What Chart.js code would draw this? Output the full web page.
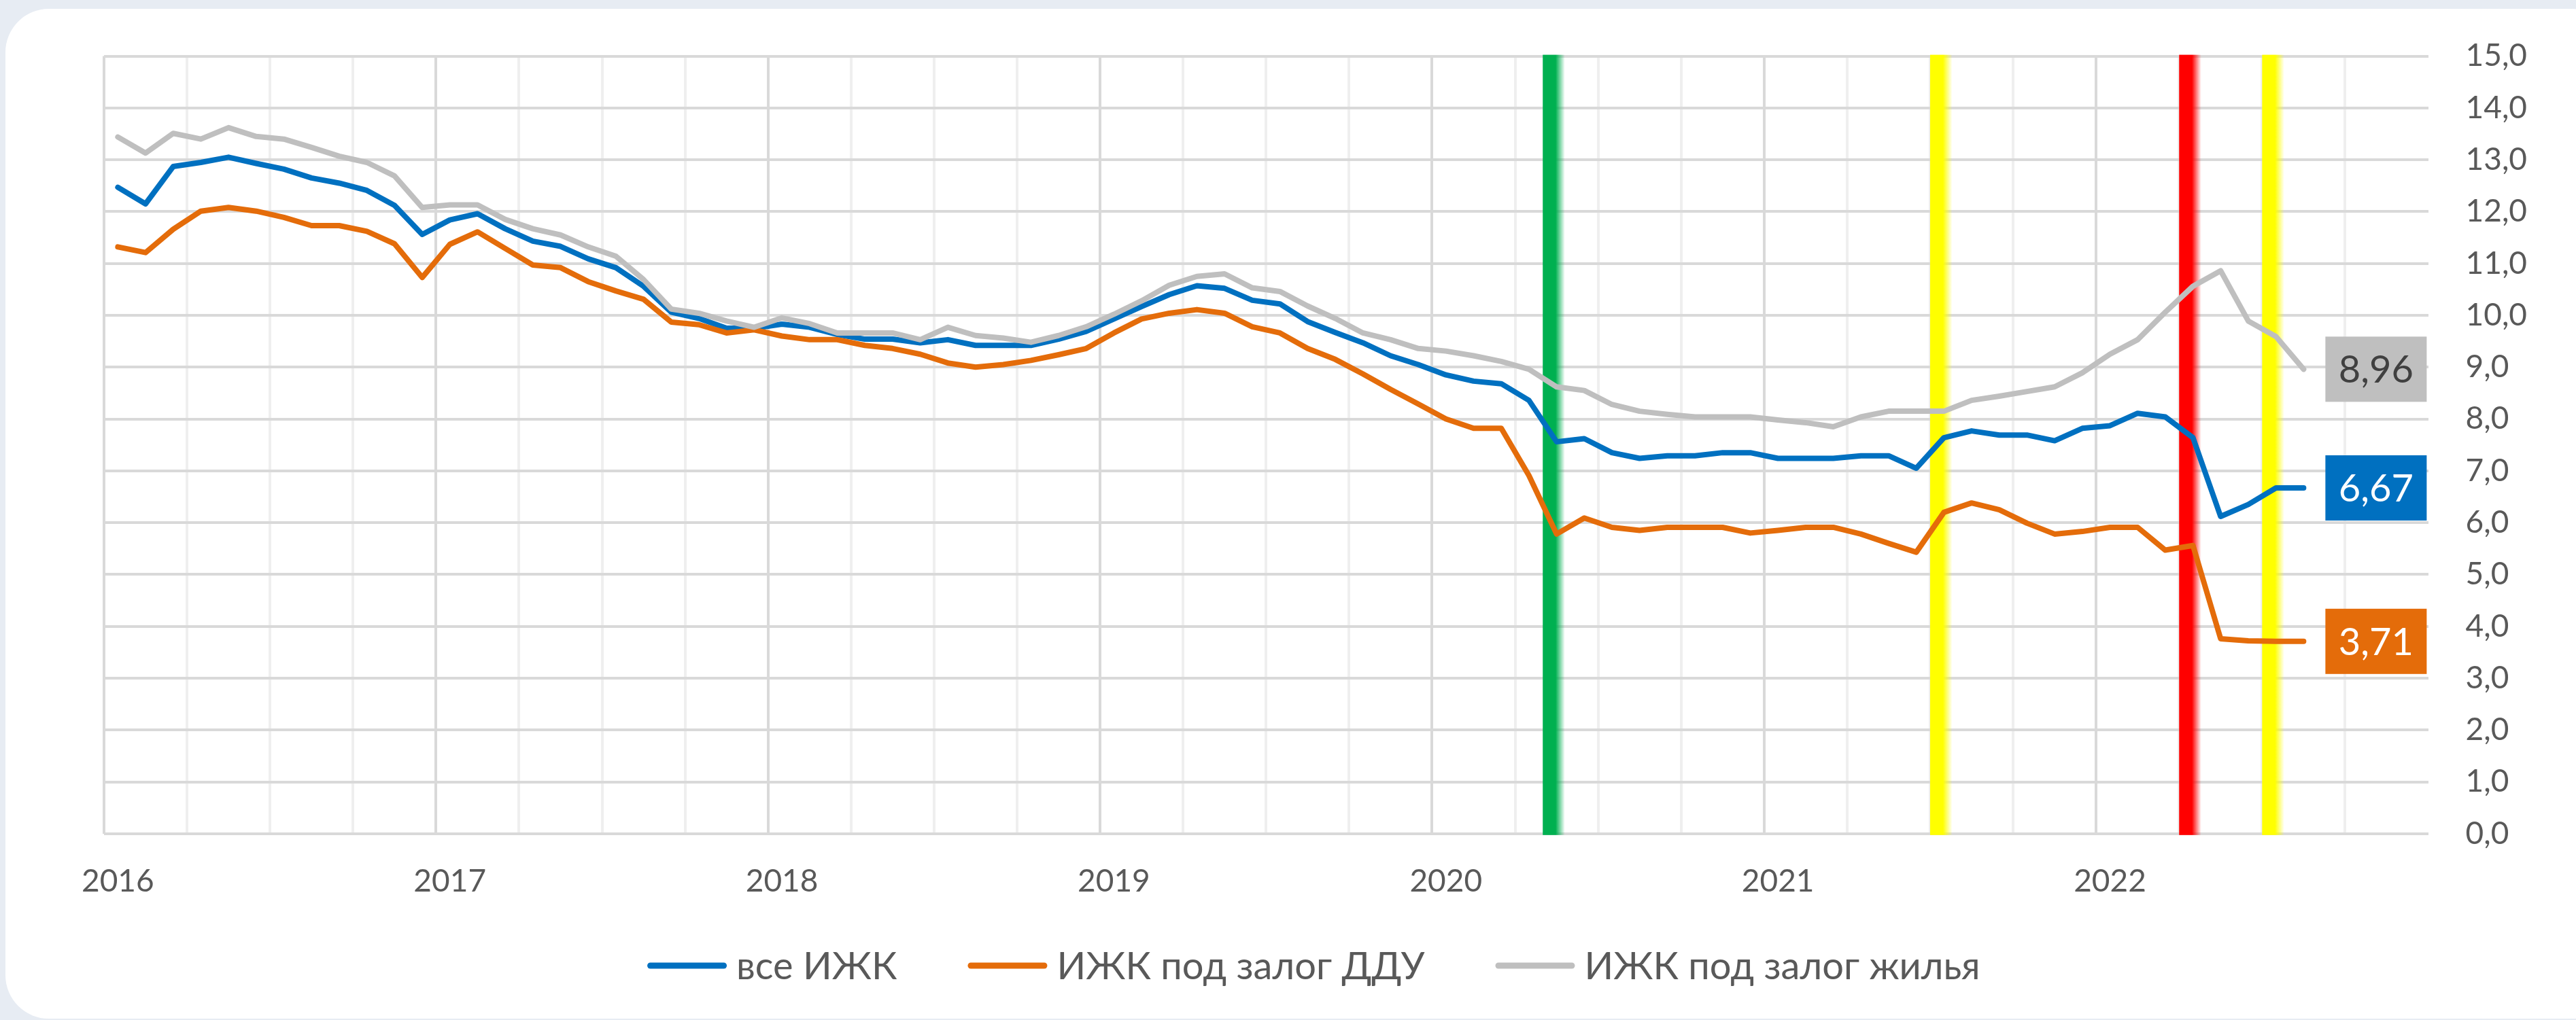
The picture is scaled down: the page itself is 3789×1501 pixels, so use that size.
<!DOCTYPE html>
<html lang="ru">
<head>
<meta charset="UTF-8">
<title>Ставки по ИЖК</title>
<script src="https://cdn.jsdelivr.net/npm/chart.js@4.4.1/dist/chart.umd.min.js"></script>
<style>
  html, body { margin: 0; padding: 0; background: #e7ecf3; overflow: hidden; }
  body { width: 3789px; height: 1501px; position: relative; }
  .card { position: absolute; left: 8px; top: 13px; width: 3840px; height: 1486px; background: #fff; border-radius: 64px; }
  .wrap { position: absolute; left: 0; top: 0; width: 3789px; height: 1501px; }
</style>
</head>
<body>
<div class="card"></div>
<div class="wrap"><canvas id="chart" width="3789" height="1501"></canvas></div>
<script>
// categories: one point per month, Jan 2016 .. Dec 2022
const years = [2016, 2017, 2018, 2019, 2020, 2021, 2022];
const months = ['01', '02', '03', '04', '05', '06', '07', '08', '09', '10', '11', '12'];

const seriesNames = ['все ИЖК', 'ИЖК под залог ДДУ', 'ИЖК под залог жилья'];

// values, Jan 2016 .. Aug 2022
const allLoans = [
  12.47, 12.15, 12.87, 12.95, 13.05, 12.93, 12.82, 12.65, 12.55, 12.41, 12.12, 11.56,
  11.84, 11.96, 11.67, 11.43, 11.33, 11.09, 10.92, 10.56, 10.06, 9.94, 9.75, 9.75,
  9.83, 9.77, 9.63, 9.54, 9.54, 9.47, 9.53, 9.42, 9.42, 9.42, 9.54, 9.69,
  9.93, 10.17, 10.40, 10.57, 10.52, 10.29, 10.22, 9.88, 9.67, 9.47, 9.22, 9.05,
  8.85, 8.73, 8.68, 8.36, 7.56, 7.62, 7.35, 7.24, 7.29, 7.29, 7.35, 7.35,
  7.24, 7.24, 7.24, 7.29, 7.29, 7.05, 7.64, 7.77, 7.69, 7.69, 7.58, 7.82,
  7.87, 8.11, 8.04, 7.64, 6.12, 6.35, 6.67, 6.67
];
const dduLoans = [
  11.32, 11.21, 11.66, 12.01, 12.08, 12.01, 11.89, 11.73, 11.73, 11.62, 11.38, 10.73,
  11.37, 11.61, 11.29, 10.97, 10.92, 10.65, 10.47, 10.31, 9.87, 9.82, 9.66, 9.72,
  9.60, 9.53, 9.53, 9.42, 9.36, 9.25, 9.08, 9.00, 9.05, 9.13, 9.24, 9.36,
  9.66, 9.93, 10.04, 10.11, 10.04, 9.78, 9.66, 9.36, 9.15, 8.87, 8.57, 8.29,
  8.00, 7.82, 7.82, 6.91, 5.78, 6.09, 5.91, 5.85, 5.91, 5.91, 5.91, 5.80,
  5.85, 5.91, 5.91, 5.78, 5.60, 5.43, 6.20, 6.38, 6.25, 5.99, 5.78, 5.83,
  5.91, 5.91, 5.47, 5.56, 3.76, 3.72, 3.71, 3.71
];
const homeLoans = [
  13.44, 13.13, 13.51, 13.40, 13.62, 13.45, 13.40, 13.24, 13.07, 12.95, 12.69, 12.08,
  12.13, 12.13, 11.85, 11.67, 11.55, 11.32, 11.14, 10.69, 10.12, 10.04, 9.89, 9.77,
  9.95, 9.84, 9.66, 9.66, 9.66, 9.53, 9.77, 9.61, 9.56, 9.48, 9.61, 9.78,
  10.02, 10.28, 10.58, 10.75, 10.80, 10.53, 10.46, 10.18, 9.94, 9.66, 9.53, 9.36,
  9.31, 9.22, 9.11, 8.96, 8.62, 8.55, 8.28, 8.15, 8.09, 8.04, 8.04, 8.04,
  7.98, 7.93, 7.85, 8.04, 8.15, 8.15, 8.15, 8.36, 8.44, 8.53, 8.62, 8.89,
  9.25, 9.53, 10.06, 10.56, 10.86, 9.89, 9.59, 8.96
];

// highlighted months (vertical bands)
const bandMonths = ['2020-05', '2021-07', '2022-04', '2022-07'];
const bandColors = ['#00B050', '#FFFF00', '#FF0000', '#FFFF00'];

const yTicks = [0, 15];

const labels = [];
years.forEach(y => months.forEach(m => labels.push(y + '-' + m)));

const colors = ['#0070C0', '#E46C0A', '#BFBFBF'];
const endTextColors = ['#ffffff', '#ffffff', '#404040'];
const textColor = '#595959';

const bandsPlugin = {
  id: 'bands',
  beforeDatasetsDraw(chart) {
    const { ctx, chartArea, scales: { x } } = chart;
    const step = x.getPixelForValue(1) - x.getPixelForValue(0);
    ctx.save();
    bandMonths.forEach((m, k) => {
      const left = x.getPixelForValue(labels.indexOf(m)) - step / 2;
      const w = step * 0.8;
      const g = ctx.createLinearGradient(left, 0, left + w, 0);
      g.addColorStop(0, bandColors[k]);
      g.addColorStop(0.58, bandColors[k]);
      g.addColorStop(1, bandColors[k] + '00');
      ctx.fillStyle = g;
      ctx.fillRect(left, chartArea.top - 2, w, chartArea.bottom - chartArea.top + 4);
    });
    ctx.restore();
  }
};

const endLabelsPlugin = {
  id: 'endLabels',
  afterDatasetsDraw(chart) {
    const { ctx } = chart;
    ctx.save();
    chart.data.datasets.forEach((ds, i) => {
      const n = ds.data.length - 1;
      const pt = chart.getDatasetMeta(i).data[n];
      const bx = pt.x + 32;
      ctx.fillStyle = colors[i];
      ctx.fillRect(bx, pt.y - 48, 149, 96);
      ctx.fillStyle = endTextColors[i];
      ctx.font = '56px Lato';
      ctx.textAlign = 'center';
      ctx.textBaseline = 'middle';
      ctx.fillText(ds.data[n].toFixed(2).replace('.', ','), bx + 74.5, pt.y + 2);
    });
    ctx.restore();
  }
};

// legend drawn by hand so the spacing follows the original
const legendPlugin = {
  id: 'bottomLegend',
  afterDraw(chart) {
    const { ctx } = chart;
    const sample = 117, textGap = 14, itemGap = 104;
    ctx.save();
    ctx.font = '56px Lato';
    const widths = seriesNames.map(t => ctx.measureText(t).width);
    const total = widths.reduce((s, w) => s + sample + textGap + w, 0) + itemGap * (seriesNames.length - 1);
    let x = chart.width * 0.51 - total / 2;
    const y = chart.height - 80;
    ctx.textBaseline = 'middle';
    ctx.textAlign = 'left';
    seriesNames.forEach((name, i) => {
      ctx.strokeStyle = colors[i];
      ctx.lineWidth = 9;
      ctx.lineCap = 'round';
      ctx.beginPath();
      ctx.moveTo(x + 4.5, y);
      ctx.lineTo(x + sample - 4.5, y);
      ctx.stroke();
      ctx.fillStyle = textColor;
      ctx.fillText(name, x + sample + textGap, y + 2);
      x += sample + textGap + widths[i] + itemGap;
    });
    ctx.restore();
  }
};

function draw() {
  const series = [allLoans, dduLoans, homeLoans];
  new Chart(document.getElementById('chart'), {
    type: 'line',
    data: {
      labels,
      datasets: series.map((d, i) => ({
        label: seriesNames[i],
        data: d,
        borderColor: colors[i],
        backgroundColor: colors[i],
        borderWidth: 8,
        pointRadius: 0,
        tension: 0,
        borderJoinStyle: 'round',
        borderCapStyle: 'round',
        order: 2 - i
      }))
    },
    options: {
      responsive: false,
      animation: false,
      devicePixelRatio: 1,
      layout: { padding: { left: 153, right: 17, top: 81, bottom: 133 } },
      plugins: {
        tooltip: { enabled: false },
        legend: { display: false }
      },
      scales: {
        x: {
          offset: true,
          grid: {
            offset: true,
            drawTicks: false,
            lineWidth: 4,
            color: c => c.index % 12 === 0 ? '#d9d9d9' : (c.index % 3 === 0 ? '#efefef' : 'rgba(0,0,0,0)')
          },
          border: { display: false },
          ticks: {
            autoSkip: false,
            maxRotation: 0,
            minRotation: 0,
            padding: 43,
            color: textColor,
            font: { family: 'Lato', size: 46 },
            callback: (v, i) => i % 12 === 0 ? labels[i].slice(0, 4) : ''
          }
        },
        y: {
          position: 'right',
          min: yTicks[0],
          max: yTicks[1],
          grid: { color: '#d9d9d9', lineWidth: 4, drawTicks: false },
          border: { display: false },
          ticks: {
            stepSize: 1,
            padding: 55,
            color: textColor,
            font: { family: 'Lato', size: 46 },
            callback: v => v.toFixed(1).replace('.', ',')
          }
        }
      }
    },
    plugins: [bandsPlugin, endLabelsPlugin, legendPlugin]
  });
}

document.fonts.load('46px Lato').then(draw, draw);
</script>
</body>
</html>
